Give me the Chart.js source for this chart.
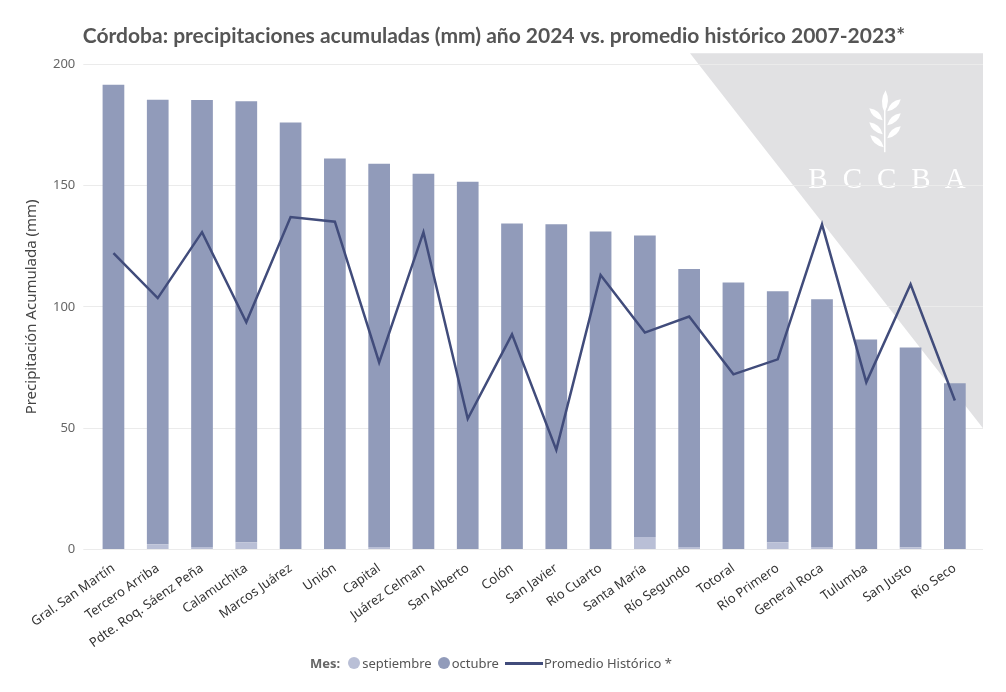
<!DOCTYPE html>
<html>
<head>
<meta charset="utf-8">
<script src="https://cdn.jsdelivr.net/npm/chart.js@4.4.1/dist/chart.umd.min.js"></script>
<style>
  body { margin: 0; background: #fff; }
  #wrap { position: relative; width: 1006px; height: 692px; }
  #legend {
    position: absolute; left: 0; right: 18px; top: 654px;
    display: flex; justify-content: center; align-items: center;
    font-family: "Noto Sans", sans-serif; font-size: 13px; color: #555;
  }
  #legend .title { font-weight: bold; color: #666; margin-right: 8px; }
  #legend .item { display: flex; align-items: center; margin-right: 6px; }
  #legend .dot { width: 12px; height: 12px; border-radius: 50%; margin-right: 2px; }
  #legend .line { width: 38px; height: 3px; margin-right: 1px; }
</style>
</head>
<body>
<div id="wrap">
  <canvas id="myChart" width="1006" height="692"></canvas>
  <div id="legend"></div>
</div>
<script>
const regions = [
  "Gral. San Martín", "Tercero Arriba", "Pdte. Roq. Sáenz Peña", "Calamuchita",
  "Marcos Juárez", "Unión", "Capital", "Juárez Celman", "San Alberto", "Colón",
  "San Javier", "Río Cuarto", "Santa María", "Río Segundo", "Totoral",
  "Río Primero", "General Roca", "Tulumba", "San Justo", "Río Seco",
];
const septiembre = [0, 2.2, 1.1, 3.0, 0, 0, 1.1, 0, 0, 0, 0, 0, 5.2, 1.1, 0, 3.0, 1.1, 0, 1.0, 0];
const octubre = [
  191.5, 183.2, 184.1, 181.7, 176.0, 161.1, 157.9, 154.9, 151.6, 134.4,
  134.1, 131.1, 124.2, 114.5, 110.0, 103.4, 102.0, 86.6, 82.3, 68.5,
];
const promedio = [
  122.2, 103.6, 130.8, 93.7, 137.0, 135.1, 77.1, 130.8, 53.9, 88.7,
  41.1, 113.1, 89.4, 96.0, 72.2, 78.4, 134.0, 68.9, 109.3, 61.4,
];
const yMax = 200;
const yStep = 50;

const colSep = "#b9bfd6";
const colOct = "#919bba";
const colLine = "#414c7b";
const colGrid = "#ebebeb";

// grey corner triangle with the BCCBA mark, drawn under grid and bars
function leaf(ctx, x, y, len, wid, ang) {
  ctx.save();
  ctx.translate(x, y);
  ctx.rotate(ang);
  ctx.beginPath();
  ctx.moveTo(0, -len / 2);
  ctx.quadraticCurveTo(wid, 0, 0, len / 2);
  ctx.quadraticCurveTo(-wid, 0, 0, -len / 2);
  ctx.fill();
  ctx.restore();
}

const watermark = {
  id: "watermark",
  beforeDraw(chart) {
    const { ctx, chartArea: a } = chart;
    const r = a.right + 6;
    ctx.save();
    ctx.fillStyle = "#e1e1e3";
    ctx.beginPath();
    ctx.moveTo(r - 293, a.top - 11);
    ctx.lineTo(r, a.top - 11);
    ctx.lineTo(r, a.top + 364);
    ctx.closePath();
    ctx.fill();

    ctx.fillStyle = "#fff";
    const cx = r - 99;
    const cy = a.top;
    ctx.fillRect(cx, cy + 40, 1.5, 48);
    leaf(ctx, cx + 1, cy + 37, 22, 6, 0.05);
    leaf(ctx, cx - 8, cy + 50, 18, 6, -0.85);
    leaf(ctx, cx - 8, cy + 64, 18, 6, -0.85);
    leaf(ctx, cx - 7, cy + 77, 18, 6, -0.85);
    leaf(ctx, cx + 10, cy + 41, 18, 6, 0.85);
    leaf(ctx, cx + 10, cy + 55, 18, 6, 0.85);
    leaf(ctx, cx + 10, cy + 68, 18, 6, 0.85);

    ctx.font = '29px "Liberation Serif"';
    ctx.textAlign = "center";
    ctx.textBaseline = "alphabetic";
    "BCCBA".split("").forEach((c, i) => {
      ctx.fillText(c, r - 165 + i * 34.3, a.top + 124);
    });
    ctx.restore();
  },
};

const ctx = document.getElementById("myChart").getContext("2d");

const myChart = new Chart(ctx, {
  type: "bar",
  data: {
    labels: regions,
    datasets: [
      {
        type: "line",
        label: "Promedio Histórico *",
        data: promedio,
        borderColor: colLine,
        backgroundColor: colLine,
        borderWidth: 2.5,
        pointRadius: 0,
        tension: 0,
        fill: false,
        order: 0,
      },
      {
        label: "septiembre",
        data: septiembre,
        backgroundColor: colSep,
        stack: "mes",
        order: 1,
      },
      {
        label: "octubre",
        data: octubre,
        backgroundColor: colOct,
        stack: "mes",
        order: 1,
      },
    ],
  },
  options: {
    responsive: false,
    animation: false,
    layout: { padding: { left: 5, right: 23, top: 0, bottom: 38 } },
    datasets: { bar: { categoryPercentage: 1, barPercentage: 0.49 } },
    plugins: {
      legend: { display: false },
      tooltip: { enabled: false },
      title: {
        display: true,
        text: "Córdoba: precipitaciones acumuladas (mm) año 2024 vs. promedio histórico 2007-2023*",
        color: "#555",
        font: { family: "Lato", size: 21, weight: "bold" },
        padding: { top: 24, bottom: 15 },
      },
    },
    scales: {
      x: {
        stacked: true,
        grid: { display: false },
        border: { display: false },
        ticks: {
          color: "#333",
          font: { family: "Noto Sans", size: 13 },
          minRotation: 35,
          maxRotation: 35,
          padding: 3,
        },
      },
      y: {
        stacked: true,
        min: 0,
        max: yMax,
        grid: { color: colGrid, tickLength: 8 },
        border: { display: false },
        ticks: {
          stepSize: yStep,
          color: "#666",
          padding: 8,
          font: { family: "Noto Sans", size: 13 },
        },
        title: {
          display: true,
          text: "Precipitación Acumulada (mm)",
          color: "#444",
          font: { family: "Noto Sans", size: 15 },
          padding: { top: 18, bottom: 4 },
        },
      },
      // right side stub so the gridlines run a little past the last bar
      yEdge: {
        position: "right",
        min: 0,
        max: yMax,
        grid: { color: colGrid, drawOnChartArea: false, tickLength: 6 },
        border: { display: false },
        ticks: { display: false, stepSize: yStep },
      },
    },
  },
  plugins: [watermark],
});

// legend built from the chart's own datasets
const legendEl = document.getElementById("legend");
legendEl.innerHTML = '<span class="title">Mes:</span>';
[1, 2, 0].forEach((i) => {
  const ds = myChart.data.datasets[i];
  const item = document.createElement("span");
  item.className = "item";
  const mark = document.createElement("span");
  mark.className = ds.type === "line" ? "line" : "dot";
  mark.style.background = ds.type === "line" ? ds.borderColor : ds.backgroundColor;
  item.appendChild(mark);
  item.appendChild(document.createTextNode(ds.label));
  legendEl.appendChild(item);
});
</script>
</body>
</html>
